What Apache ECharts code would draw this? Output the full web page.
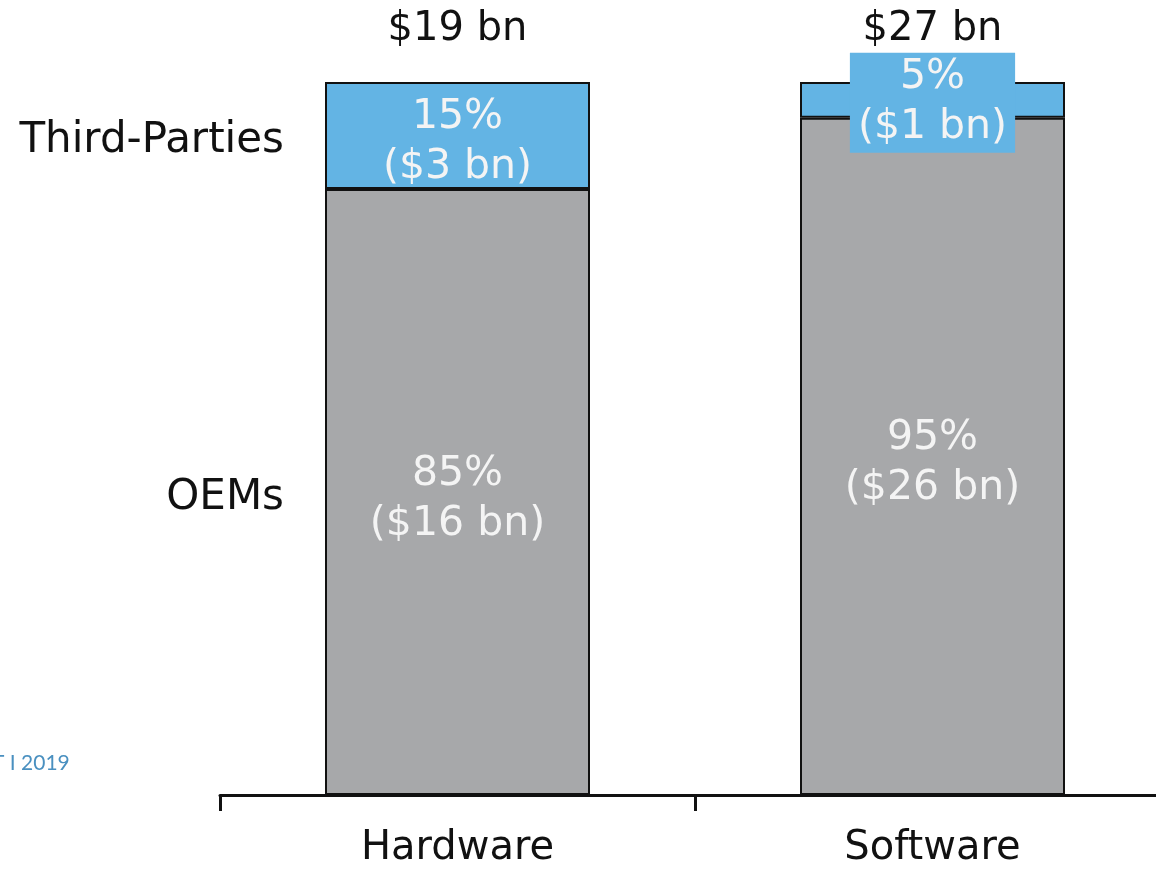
<!DOCTYPE html>
<html lang="en">
<head>
    <meta charset="UTF-8">
    <title>OEMs vs Third-Parties</title>
    <style type="text/css">
        body {
            margin: 0;
            background: #fff;
            overflow: hidden;
        }

        /* the plot runs a little past the right edge of the window */
        #chart {
            width: 1170px;
            height: 869px;
        }
    </style>
    <script type="text/javascript" src="https://cdn.jsdelivr.net/npm/echarts@6/dist/echarts.min.js"></script>
</head>
<body>
    <div id="chart"></div>
</body>
</html>
<script type="text/javascript">
    var categories = ['Hardware', 'Software'];
    var oemShare = [85, 95];
    var oemValue = [16, 26];
    var thirdShare = [15, 5];
    var thirdValue = [3, 1];
    var totals = [19, 27];
    var segmentNames = ['OEMs', 'Third-Parties'];

    var font = 'DejaVu Sans, Verdana, sans-serif';
    var chart = echarts.init(document.getElementById('chart'));

    function segLabel(share, value) {
        return share + '%\n($' + value + ' bn)';
    }

    var oemData = [];
    var thirdData = [];
    for (var i = 0; i < categories.length; i++) {
        oemData.push({ value: oemShare[i], label: { formatter: segLabel(oemShare[i], oemValue[i]) } });
        var item = { value: thirdShare[i], label: { formatter: segLabel(thirdShare[i], thirdValue[i]) } };
        // thin segment: label overflows, so give it a box in the segment colour
        if (thirdShare[i] < 10) {
            item.label.backgroundColor = '#63b4e4';
            item.label.padding = [0, 8, 0, 8];
            item.label.offset = [0, 3];
        }
        thirdData.push(item);
    }

    var totalData = [];
    for (var k = 0; k < categories.length; k++) {
        totalData.push({ value: oemShare[k] + thirdShare[k], total: totals[k] });
    }

    var segLabelStyle = {
        show: true,
        position: 'inside',
        offset: [0, 7],
        color: '#f4f4f4',
        fontFamily: font,
        fontSize: 41,
        lineHeight: 50
    };

    var option = {
        animation: false,
        grid: {
            left: 220,
            right: 0,
            top: 82,
            bottom: 74
        },
        xAxis: {
            type: 'category',
            data: categories,
            axisLine: { lineStyle: { color: '#111', width: 3 } },
            axisTick: { show: true, length: 16, lineStyle: { color: '#111', width: 3 } },
            axisLabel: {
                color: '#111',
                fontFamily: font,
                fontSize: 40,
                margin: 34
            }
        },
        yAxis: {
            type: 'value',
            min: 0,
            max: 100,
            show: false,
            splitLine: { show: false }
        },
        series: [{
            name: segmentNames[0],
            type: 'bar',
            stack: 'share',
            barWidth: 265,
            itemStyle: { color: '#a7a8aa', borderColor: '#111', borderWidth: 2 },
            label: segLabelStyle,
            data: oemData
        }, {
            name: segmentNames[1],
            type: 'bar',
            stack: 'share',
            barWidth: 265,
            itemStyle: { color: '#63b4e4', borderColor: '#111', borderWidth: 2 },
            label: segLabelStyle,
            data: thirdData
        }, {
            name: 'Total',
            type: 'scatter',
            symbolSize: 0.1,
            z: 1,
            itemStyle: { color: '#111', opacity: 1 },
            label: {
                show: true,
                position: 'top',
                distance: 32,
                color: '#111',
                opacity: 1,
                fontFamily: font,
                fontSize: 40,
                formatter: function (p) {
                    return '$' + p.data.total + ' bn';
                }
            },
            data: totalData
        }]
    };
    chart.setOption(option);

    // segment names on the left, level with the first bar's segments
    var yOem = chart.convertToPixel({ gridIndex: 0 }, [0, oemShare[0] / 2])[1];
    var yThird = chart.convertToPixel({ gridIndex: 0 }, [0, oemShare[0] + thirdShare[0] / 2])[1];
    chart.setOption({
        graphic: [{
            type: 'text',
            x: 284,
            y: yThird + 6,
            style: { text: segmentNames[1], fill: '#111', font: '42px ' + font, align: 'right', verticalAlign: 'middle' }
        }, {
            type: 'text',
            x: 284,
            y: yOem + 6,
            style: { text: segmentNames[0], fill: '#111', font: '42px ' + font, align: 'right', verticalAlign: 'middle' }
        }, {
            type: 'text',
            left: -8,
            top: 753,
            style: { text: 'T I 2019', fill: '#4a90c0', font: '21px Lato, sans-serif' }
        }]
    });
</script>
